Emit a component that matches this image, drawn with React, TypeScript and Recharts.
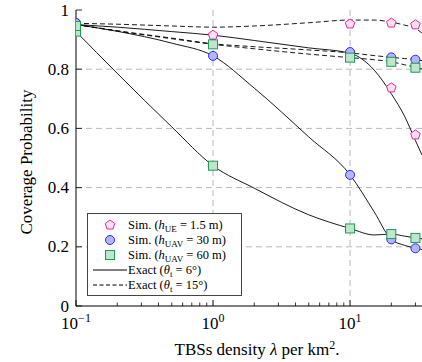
import React from 'react'
import { ComposedChart, Line, Scatter, XAxis, YAxis, ReferenceLine } from 'recharts'

// x positions
const simX = [0.1, 1, 10, 20, 30]
const exactX = [0.1, 0.2, 0.5, 1, 2, 5, 10, 15, 20, 25, 30, 33.5]

// exact curves (theta_t = 6 deg solid, 15 deg dashed)
const exactUe6 = [0.951, 0.942, 0.927, 0.915, 0.897, 0.872, 0.854, 0.797, 0.717, 0.641, 0.559, 0.51]
const exactUe15 = [0.955, 0.952, 0.946, 0.942, 0.946, 0.957, 0.966, 0.966, 0.959, 0.949, 0.938, 0.922]
const exactUav30_6 = [0.951, 0.928, 0.888, 0.845, 0.736, 0.571, 0.443, 0.318, 0.225, 0.205, 0.195, 0.191]
const exactUav30_15 = [0.951, 0.93, 0.905, 0.886, 0.876, 0.865, 0.855, 0.846, 0.84, 0.836, 0.832, 0.829]
const exactUav60_6 = [0.927, 0.786, 0.605, 0.474, 0.398, 0.308, 0.262, 0.24, 0.243, 0.236, 0.23, 0.227]
const exactUav60_15 = [0.951, 0.929, 0.903, 0.884, 0.869, 0.851, 0.839, 0.832, 0.825, 0.815, 0.806, 0.801]

// simulation markers
const simUe6 = [0.951, 0.915, 0.855, 0.737, 0.578]
const simUe15 = [null, null, 0.953, 0.956, 0.95]
const simUav30_6 = [0.956, 0.845, 0.443, 0.225, 0.195]
const simUav30_15 = [0.956, 0.886, 0.858, 0.84, 0.832]
const simUav60_6 = [0.927, 0.474, 0.262, 0.243, 0.23]
const simUav60_15 = [0.946, 0.884, 0.839, 0.825, 0.805]

const xMajor = [0.1, 1, 10]
const xTicks = [0.1, 0.2, 0.3, 0.4, 0.5, 0.6, 0.7, 0.8, 0.9, 1, 2, 3, 4, 5, 6, 7, 8, 9, 10, 20, 30]
const yTicks = [0, 0.2, 0.4, 0.6, 0.8, 1]
const yGrid = [0.2, 0.4, 0.6, 0.8]

const FONT = "'Liberation Serif', 'DejaVu Serif', serif"
const PINK = '#f0259a'
const PINK_FILL = '#ffe0f0'
const BLUE = '#2a2aff'
const BLUE_FILL = '#b4b4ff'
const GREEN = '#1f9a55'
const GREEN_FILL = '#bfe6cc'

const pts = (xs: number[], ys: (number | null)[]) =>
  xs.map((x, i) => ({ x, y: ys[i] })).filter(p => p.y != null)

const isMajor = (v: number) => xMajor.some(m => Math.abs(m - v) < 1e-9)

const pentPoints = (cx: number, cy: number, r: number) =>
  [0, 1, 2, 3, 4]
    .map(i => {
      const a = -Math.PI / 2 + (i * 2 * Math.PI) / 5
      return `${cx + r * Math.cos(a)},${cy + r * Math.sin(a)}`
    })
    .join(' ')

const Pentagon = ({ cx, cy }: any) => (
  <polygon points={pentPoints(cx, cy, 5)} fill={PINK_FILL} stroke={PINK} strokeWidth={1} />
)
const Circ = ({ cx, cy }: any) => (
  <circle cx={cx} cy={cy} r={4.5} fill={BLUE_FILL} stroke={BLUE} strokeWidth={1} />
)
const Sq = ({ cx, cy }: any) => (
  <rect x={cx - 4.5} y={cy - 4.5} width={9} height={9} fill={GREEN_FILL} stroke={GREEN} strokeWidth={1} />
)

const BottomTick = ({ x, y, payload }: any) => {
  const v = payload.value
  const major = isMajor(v)
  const exp = Math.round(Math.log10(v))
  return (
    <g>
      <line x1={x} x2={x} y1={y} y2={y - (major ? 6 : 3.5)} stroke="#000" strokeWidth={0.8} />
      {major && (
        <text x={x} y={y + 23} textAnchor="middle" fontFamily={FONT} fontSize={17} fill="#000">
          <tspan>10</tspan>
          <tspan dy={-7} fontSize={12}>{exp < 0 ? '\u2212' + Math.abs(exp) : String(exp)}</tspan>
        </text>
      )}
    </g>
  )
}

const TopTick = ({ x, y, payload }: any) => {
  const major = isMajor(payload.value)
  return <line x1={x} x2={x} y1={y} y2={y + (major ? 6 : 3.5)} stroke="#000" strokeWidth={0.8} />
}

const LeftTick = ({ x, y, payload }: any) => {
  const v = payload.value
  return (
    <g>
      <line x1={x} x2={x + 6} y1={y} y2={y} stroke="#000" strokeWidth={0.8} />
      <text x={x - 7} y={y} dy="0.33em" textAnchor="end" fontFamily={FONT} fontSize={17} fill="#000">
        {String(v)}
      </text>
    </g>
  )
}

const LineSample = ({ dashed }: { dashed?: boolean }) => (
  <svg width={34} height={10} style={{ display: 'block' }}>
    <line x1={0} x2={34} y1={5} y2={5} stroke="#000" strokeWidth={1} strokeDasharray={dashed ? '4 2.5' : undefined} />
  </svg>
)

const MarkSample = ({ kind }: { kind: string }) => (
  <svg width={34} height={12} style={{ display: 'block' }}>
    {kind === 'p' && <Pentagon cx={17} cy={6} />}
    {kind === 'c' && <Circ cx={17} cy={6} />}
    {kind === 's' && <Sq cx={17} cy={6} />}
  </svg>
)

const sub = (t: string) => (
  <span style={{ fontSize: 9, position: 'relative', top: 3 }}>{t}</span>
)

const legendRows = [
  { icon: <MarkSample kind="p" />, text: <>Sim. (<i>h</i>{sub('UE')} = 1.5 m)</> },
  { icon: <MarkSample kind="c" />, text: <>Sim. (<i>h</i>{sub('UAV')} = 30 m)</> },
  { icon: <MarkSample kind="s" />, text: <>Sim. (<i>h</i>{sub('UAV')} = 60 m)</> },
  { icon: <LineSample />, text: <>Exact (<i>θ</i>{sub('t')} = 6°)</> },
  { icon: <LineSample dashed />, text: <>Exact (<i>θ</i>{sub('t')} = 15°)</> },
]

const exactSeries = [
  { ys: exactUe6, dash: false },
  { ys: exactUe15, dash: true },
  { ys: exactUav30_6, dash: false },
  { ys: exactUav30_15, dash: true },
  { ys: exactUav60_6, dash: false },
  { ys: exactUav60_15, dash: true },
]

export default function App() {
  return (
    <div style={{ position: 'absolute', left: 0, top: 0, width: 422, height: 362, background: '#fff' }}>
      <ComposedChart width={422} height={362} margin={{ top: 10, right: 0, bottom: 0, left: 0 }}>
        <XAxis
          xAxisId="b"
          dataKey="x"
          type="number"
          scale="log"
          domain={[0.1, 33.5]}
          allowDataOverflow
          ticks={xTicks}
          interval={0}
          tickSize={0}
          tickMargin={0}
          tickLine={false}
          tick={(p: any) => <BottomTick {...p} />}
          axisLine={{ stroke: '#000', strokeWidth: 1 }}
          height={56}
          label={{
            content: () => (
              <text x={257} y={355} textAnchor="middle" fontFamily={FONT} fontSize={17} fill="#000">
                TBSs density <tspan fontStyle="italic">λ</tspan> per km<tspan dy={-6} fontSize={12}>2</tspan><tspan dy={6}>.</tspan>
              </text>
            ),
          }}
        />
        <XAxis
          xAxisId="t"
          orientation="top"
          type="number"
          scale="log"
          domain={[0.1, 33.5]}
          allowDataOverflow
          ticks={xTicks}
          interval={0}
          tickSize={0}
          tickMargin={0}
          tickLine={false}
          tick={(p: any) => <TopTick {...p} />}
          axisLine={{ stroke: '#000', strokeWidth: 1 }}
          height={0}
        />
        <YAxis
          dataKey="y"
          type="number"
          domain={[0, 1]}
          allowDataOverflow
          ticks={yTicks}
          interval={0}
          tickSize={0}
          tickMargin={0}
          tickLine={false}
          tick={(p: any) => <LeftTick {...p} />}
          axisLine={{ stroke: '#000', strokeWidth: 1 }}
          width={76}
          label={{
            content: () => (
              <text x={26} y={162} transform="rotate(-90 26 162)" dy="0.35em" textAnchor="middle" fontFamily={FONT} fontSize={17} fill="#000">
                Coverage Probability
              </text>
            ),
          }}
        />
        {xMajor.slice(1).map(v => (
          <ReferenceLine key={'vx' + v} xAxisId="b" x={v} stroke="#b8b8b8" strokeDasharray="6 4" strokeWidth={1} />
        ))}
        {yGrid.map(v => (
          <ReferenceLine key={'hy' + v} xAxisId="b" y={v} stroke="#b8b8b8" strokeDasharray="6 4" strokeWidth={1} />
        ))}
        {exactSeries.map((s, i) => (
          <Line
            key={'e' + i}
            xAxisId="b"
            data={pts(exactX, s.ys)}
            dataKey="y"
            type="monotone"
            stroke="#000"
            strokeWidth={0.9}
            strokeDasharray={s.dash ? '5 3' : undefined}
            dot={false}
            activeDot={false}
            isAnimationActive={false}
          />
        ))}
        <Scatter xAxisId="b" data={pts(simX, simUe6)} dataKey="y" shape={(p: any) => <Pentagon {...p} />} isAnimationActive={false} />
        <Scatter xAxisId="b" data={pts(simX, simUe15)} dataKey="y" shape={(p: any) => <Pentagon {...p} />} isAnimationActive={false} />
        <Scatter xAxisId="b" data={pts(simX, simUav30_6)} dataKey="y" shape={(p: any) => <Circ {...p} />} isAnimationActive={false} />
        <Scatter xAxisId="b" data={pts(simX, simUav30_15)} dataKey="y" shape={(p: any) => <Circ {...p} />} isAnimationActive={false} />
        <Scatter xAxisId="b" data={pts(simX, simUav60_6)} dataKey="y" shape={(p: any) => <Sq {...p} />} isAnimationActive={false} />
        <Scatter xAxisId="b" data={pts(simX, simUav60_15)} dataKey="y" shape={(p: any) => <Sq {...p} />} isAnimationActive={false} />
      </ComposedChart>
      <div
        style={{
          position: 'absolute',
          left: 87,
          top: 213,
          width: 155,
          height: 83,
          boxSizing: 'border-box',
          border: '1px solid #444',
          background: '#fff',
          paddingTop: 3.5,
          fontFamily: FONT,
          fontSize: 12.5,
          color: '#000',
        }}
      >
        {legendRows.map((r, i) => (
          <div key={i} style={{ height: 15, display: 'flex', alignItems: 'center', paddingLeft: 5 }}>
            <div style={{ width: 34, display: 'flex', justifyContent: 'center' }}>{r.icon}</div>
            <div style={{ marginLeft: 1, whiteSpace: 'nowrap' }}>{r.text}</div>
          </div>
        ))}
      </div>
    </div>
  )
}
